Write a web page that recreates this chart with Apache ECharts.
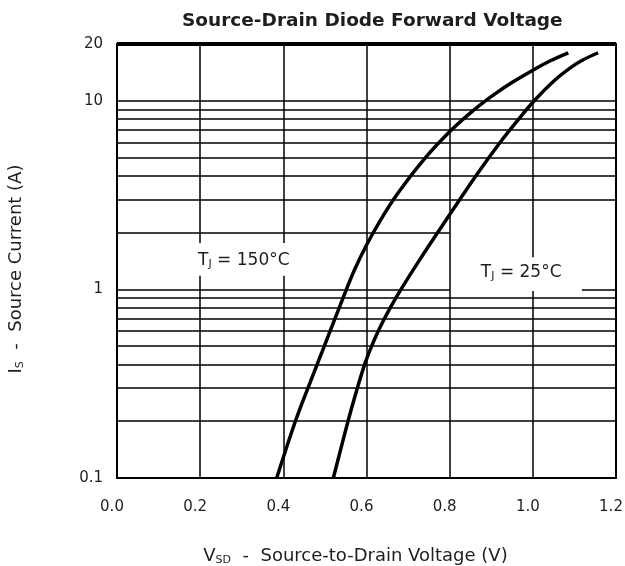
<!DOCTYPE html>
<html>
<head>
<meta charset="utf-8">
<script src="https://cdn.jsdelivr.net/npm/echarts@6/dist/echarts.min.js"></script>
<style>
  html, body { margin: 0; padding: 0; background: #fff; }
  #chart { width: 625px; height: 566px; }
</style>
</head>
<body>
<div id="chart"></div>
<script>
// TJ = 150°C curve
const hotV = [0.3841, 0.43, 0.4666, 0.5041, 0.5416, 0.571, 0.6001, 0.6337, 0.6758, 0.7369, 0.804, 0.8579, 0.9048, 0.9517, 1.0007, 1.0421, 1.0854]
const hotI = [0.1, 0.203, 0.33, 0.538, 0.878, 1.266, 1.718, 2.331, 3.241, 4.85, 6.99, 8.93, 10.72, 12.57, 14.55, 16.3, 17.97]
// TJ = 25°C curve
const coldV = [0.5202, 0.5563, 0.5765, 0.5964, 0.6116, 0.6332, 0.6563, 0.6818, 0.7273, 0.7749, 0.8232, 0.873, 0.9257, 0.9641, 1.005, 1.0531, 1.0892, 1.12, 1.1569]
const coldI = [0.1, 0.203, 0.292, 0.405, 0.496, 0.633, 0.793, 0.991, 1.43, 2.06, 2.97, 4.29, 6.19, 7.9, 10.09, 12.88, 14.91, 16.44, 17.97]

const xTicks = [0, 0.2, 0.4, 0.6, 0.8, 1.0, 1.2]
const yTickLabels = [0.1, 1, 10, 20]
const yGridValues = [0.2, 0.3, 0.4, 0.5, 0.6, 0.7, 0.8, 0.9, 1, 2, 3, 4, 5, 6, 7, 8, 9, 10]

// grid lines are blanked where the two temperature labels sit
const hGaps = [
  { y: 2, from: 0.8, to: 1.2 },
  { y: 1, from: 0.8, to: 1.118 }
]
const vGaps = [
  { x: 0.2, from: 1.18, to: 1.76 },
  { x: 0.4, from: 1.18, to: 1.76 },
  { x: 1.0, from: 0.98, to: 1.48 }
]

const labels = [
  { text: '150°C', v: 0.305, i: 1.43 },
  { text: '25°C', v: 0.972, i: 1.235 }
]

const xMin = xTicks[0], xMax = xTicks[xTicks.length - 1]
const yMin = yTickLabels[0], yMax = yTickLabels[yTickLabels.length - 1]

function seg(a, b) {
  return [{ coord: a }, { coord: b }]
}

const gridSegs = []
yGridValues.forEach(y => {
  const g = hGaps.find(h => h.y === y)
  if (g) {
    gridSegs.push(seg([xMin, y], [g.from, y]))
    if (g.to < xMax) gridSegs.push(seg([g.to, y], [xMax, y]))
  } else {
    gridSegs.push(seg([xMin, y], [xMax, y]))
  }
})
xTicks.slice(1, -1).forEach(x => {
  const g = vGaps.find(v => v.x === x)
  if (g) {
    gridSegs.push(seg([x, yMin], [x, g.from]))
    gridSegs.push(seg([x, g.to], [x, yMax]))
  } else {
    gridSegs.push(seg([x, yMin], [x, yMax]))
  }
})

const textColor = '#1e1e1e'
const font = 'DejaVu Sans'
const subStyle = { fontSize: 11, lineHeight: 11, verticalAlign: 'bottom', color: textColor }

const chart = echarts.init(document.getElementById('chart'))
const option = {
  animation: false,
  textStyle: { fontFamily: font, color: textColor },
  title: {
    text: 'Source-Drain Diode Forward Voltage',
    left: 177,
    top: 7,
    textStyle: { fontFamily: font, fontSize: 18.5, fontWeight: 'bold', color: textColor }
  },
  grid: {
    left: 117,
    right: 9,
    top: 44,
    bottom: 88,
    outerBoundsMode: 'none',
    containLabel: false,
    show: true,
    borderColor: '#000',
    borderWidth: 2
  },
  xAxis: {
    type: 'value',
    min: xMin,
    max: xMax,
    interval: 0.2,
    name: 'V{sub|SD}  -  Source-to-Drain Voltage (V)',
    nameLocation: 'middle',
    nameGap: 68,
    nameTextStyle: {
      fontSize: 18,
      color: textColor,
      lineHeight: 20,
      padding: [0, 22, 0, 0],
      rich: { sub: subStyle }
    },
    axisLine: { show: false },
    axisTick: { show: false },
    splitLine: { show: false },
    axisLabel: {
      margin: 22,
      fontSize: 15,
      color: textColor,
      padding: [0, 10, 0, 0],
      formatter: v => v.toFixed(1)
    }
  },
  yAxis: {
    type: 'log',
    logBase: 10,
    min: yMin,
    max: yMax,
    name: 'I{sub|S}  -  Source Current (A)',
    nameLocation: 'middle',
    nameRotate: 90,
    nameGap: 91,
    nameTextStyle: {
      fontSize: 18,
      color: textColor,
      lineHeight: 20,
      padding: [0, 16, 0, 0],
      rich: { sub: subStyle }
    },
    axisLine: { show: false },
    axisTick: { show: false },
    splitLine: { show: false },
    minorTick: { show: false },
    axisLabel: {
      margin: 14,
      fontSize: 15,
      color: textColor,
      customValues: yTickLabels,
      formatter: v => String(+v.toPrecision(3))
    }
  },
  series: [
    {
      name: 'grid',
      type: 'line',
      data: [],
      silent: true,
      z: 1,
      markLine: {
        silent: true,
        symbol: ['none', 'none'],
        label: { show: false },
        lineStyle: { type: 'solid', color: '#000', width: 1.5 },
        data: gridSegs.concat([
          [{ coord: [xMin, yMax], lineStyle: { width: 4 } }, { coord: [xMax, yMax] }]
        ])
      }
    },
    {
      name: 'TJ = 150°C',
      type: 'line',
      smooth: 0.4,
      showSymbol: false,
      z: 3,
      lineStyle: { color: '#000', width: 3.5 },
      data: hotV.map((v, k) => [v, hotI[k]])
    },
    {
      name: 'TJ = 25°C',
      type: 'line',
      smooth: 0.4,
      showSymbol: false,
      z: 3,
      lineStyle: { color: '#000', width: 3.5 },
      data: coldV.map((v, k) => [v, coldI[k]]),
      markPoint: {
        silent: true,
        symbol: 'circle',
        symbolSize: 1,
        itemStyle: { color: 'rgba(0,0,0,0)' },
        label: {
          show: true,
          position: 'inside',
          color: textColor,
          rich: {
            t: { fontSize: 17, lineHeight: 20, color: textColor },
            s: subStyle
          },
          formatter: p => '{t|T}{s|J}{t| = ' + p.name + '}'
        },
        data: labels.map(l => ({ name: l.text, coord: [l.v, l.i] }))
      }
    }
  ]
}
chart.setOption(option)
</script>
</body>
</html>
